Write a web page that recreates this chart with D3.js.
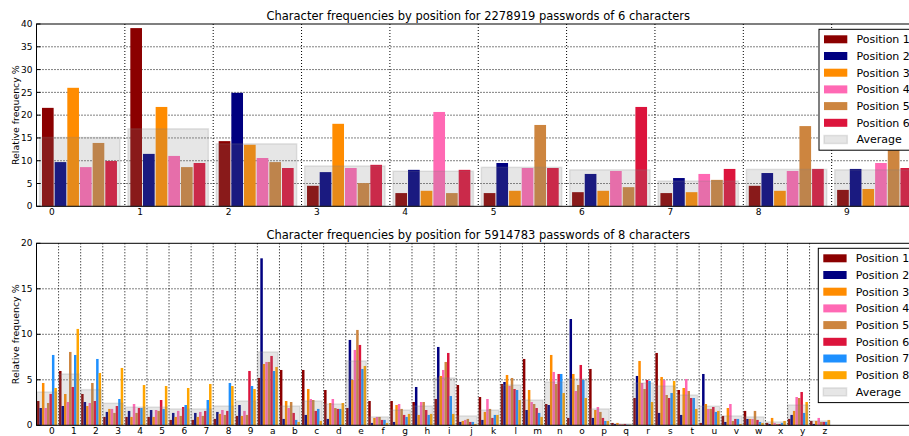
<!DOCTYPE html>
<html>
<meta charset="utf-8">

<head>
    <style>
    body {
        margin: 0;
        background: white;
    }

    text {
        font-family: "DejaVu Sans", sans-serif;
        fill: black;
    }

    .grid line {
        stroke: black;
        stroke-width: 1;
        stroke-dasharray: 1, 2;
    }

    .spine {
        fill: none;
        stroke: black;
        stroke-width: 1;
    }

    .title {
        font-size: 11.5px;
        text-anchor: middle;
    }

    .tick_label {
        font-size: 9px;
    }

    .axis_label {
        font-size: 9.4px;
        text-anchor: middle;
    }

    .legend text {
        font-size: 11px;
    }

    .average {
        fill: grey;
        fill-opacity: .2;
        stroke: grey;
        stroke-opacity: .2;
        stroke-width: 1.5;
    }
    </style>
</head>

<body>
    <div id='viz'></div>
</body>
<script src="https://cdn.jsdelivr.net/npm/d3@7"></script>

<script>
const width = 909;
const height = 436;

const colours = ['darkred', 'navy', 'darkorange', 'hotpink', 'peru', 'crimson', 'dodgerblue', 'orange'];

// 6 character passwords, digits 0-9
const digits = ['0', '1', '2', '3', '4', '5', '6', '7', '8', '9'];
const six_pos1 = [21.6, 39.1, 14.3, 4.5, 2.9, 2.9, 3.1, 2.9, 4.5, 3.6];
const six_pos2 = [9.7, 11.5, 24.9, 7.5, 8.0, 9.5, 7.1, 6.2, 7.3, 8.2];
const six_pos3 = [26.0, 21.8, 13.5, 18.1, 3.4, 3.4, 3.4, 3.1, 3.4, 3.8];
const six_pos4 = [8.6, 11.05, 10.6, 8.4, 20.7, 8.4, 7.75, 7.1, 7.75, 9.5];
const six_pos5 = [13.9, 8.6, 9.7, 5.1, 2.9, 17.85, 4.2, 5.8, 17.6, 14.5];
const six_pos6 = [9.95, 9.5, 8.4, 9.1, 8.0, 8.4, 21.8, 8.2, 8.2, 8.4];
const six_avg = [15.1, 17.0, 13.7, 8.85, 7.7, 8.55, 8.0, 5.55, 8.1, 8.0];

// 8 character passwords, 0-9 and a-z
const chars = ['0', '1', '2', '3', '4', '5', '6', '7', '8', '9',
    'a', 'b', 'c', 'd', 'e', 'f', 'g', 'h', 'i', 'j', 'k', 'l', 'm',
    'n', 'o', 'p', 'q', 'r', 's', 't', 'u', 'v', 'w', 'x', 'y', 'z'];
const eight_pos1 = [2.67, 5.97, 3.44, 0.92, 0.92, 0.92, 0.59, 0.59, 0.7, 1.03,
    5.2, 6.08, 6.08, 3.88, 1.9, 2.67, 2.67, 2.56, 2.89, 4.43, 3.11, 4.54, 7.29,
    2.34, 0.81, 6.19, 0.26, 3.0, 7.95, 3.88, 0.26, 1.03, 1.58, 0.26, 0.7, 0.48];
const eight_pos2 = [1.9, 2.12, 2.56, 1.47, 1.58, 1.68, 1.36, 1.36, 1.47, 2.23,
    18.35, 0.7, 1.14, 0.7, 9.38, 0.26, 0.37, 4.21, 8.61, 0.37, 0.59, 4.76, 1.68,
    2.23, 11.68, 0.81, 0.15, 5.42, 1.36, 1.14, 5.64, 0.37, 0.7, 0.15, 1.14, 0.15];
const eight_pos3 = [4.65, 3.44, 2.12, 1.8, 0.92, 0.92, 0.92, 0.92, 1.25, 1.03,
    6.74, 2.67, 3.99, 2.45, 4.98, 0.81, 2.23, 1.14, 5.42, 0.48, 1.47, 5.53, 3.88,
    7.73, 5.64, 1.68, 0.26, 7.07, 5.31, 4.1, 2.34, 1.9, 0.7, 0.81, 1.58, 0.48];
const eight_pos4 = [1.9, 2.56, 2.45, 1.8, 2.34, 1.68, 1.58, 1.47, 1.68, 1.58,
    6.96, 1.9, 2.89, 2.89, 8.28, 0.92, 2.34, 2.56, 6.08, 0.59, 2.89, 4.32, 2.56,
    5.86, 3.77, 2.01, 0.15, 4.65, 4.98, 5.09, 1.8, 2.34, 0.7, 0.26, 3.11, 0.81];
const eight_pos5 = [2.45, 8.06, 4.65, 1.36, 1.36, 1.58, 1.03, 1.03, 1.14, 1.14,
    6.96, 2.56, 2.78, 1.9, 10.48, 0.92, 1.8, 2.56, 6.96, 0.7, 1.8, 5.2, 2.34,
    4.54, 4.43, 1.47, 0.11, 3.99, 3.33, 3.77, 1.8, 0.48, 1.58, 0.15, 3.0, 0.37];
const eight_pos6 = [3.45, 4.21, 2.67, 2.12, 1.9, 2.78, 2.01, 1.58, 1.58, 5.97,
    7.62, 1.36, 1.58, 1.8, 8.83, 0.59, 1.14, 1.68, 7.95, 0.37, 0.81, 3.99, 1.9,
    5.64, 6.63, 0.81, 0.15, 4.98, 3.0, 3.0, 2.01, 0.7, 0.59, 0.15, 3.66, 0.37];
const eight_pos7 = [7.73, 7.73, 7.29, 2.89, 1.9, 1.8, 2.23, 2.78, 4.65, 4.32,
    5.97, 0.59, 1.8, 1.8, 6.19, 0.59, 0.92, 1.14, 3.22, 0.37, 1.14, 3.88, 1.36,
    5.64, 4.98, 0.48, 0.07, 4.87, 3.55, 3.0, 1.47, 0.7, 0.37, 0.26, 1.36, 0.37];
const eight_pos8 = [4.1, 10.59, 5.75, 6.3, 4.43, 4.32, 4.1, 4.54, 4.32, 3.99,
    6.41, 0.37, 0.48, 2.45, 6.52, 0.26, 1.25, 1.25, 1.25, 0.15, 1.14, 2.78, 0.92,
    3.55, 3.0, 0.48, 0.07, 2.56, 4.87, 1.8, 1.58, 0.15, 0.26, 0.48, 2.56, 0.59];
const eight_avg = [3.66, 5.64, 3.92, 2.42, 2.0, 2.0, 1.8, 1.8, 2.12, 2.67,
    8.06, 2.12, 2.67, 2.34, 7.07, 0.92, 1.68, 2.12, 5.2, 1.03, 1.68, 4.43, 2.78,
    4.76, 5.09, 1.8, 0.15, 4.65, 4.32, 3.33, 2.1, 1.03, 0.92, 0.37, 2.23, 0.48];

const svg = d3.select("#viz")
    .append("svg")
    .attr("width", width)
    .attr("height", height);

draw_panel({
    title: 'Character frequencies by position for 2278919 passwords of 6 characters',
    categories: digits,
    series: [six_pos1, six_pos2, six_pos3, six_pos4, six_pos5, six_pos6],
    average: six_avg,
    x_max: 10,
    y_max: 40,
    top: 24,
    bottom: 206.3,
    bar_start: 0.062,
    bar_total: 0.86,
    avg_start: 0.035,
    avg_width: 0.91,
    legend: [819, 29.3]
});

draw_panel({
    title: 'Character frequencies by position for 5914783 passwords of 8 characters',
    categories: chars,
    series: [eight_pos1, eight_pos2, eight_pos3, eight_pos4, eight_pos5, eight_pos6, eight_pos7, eight_pos8],
    average: eight_avg,
    x_max: 40,
    y_max: 20,
    top: 243.3,
    bottom: 425.3,
    bar_start: 0.02,
    bar_total: 0.905,
    avg_start: 0.01,
    avg_width: 0.92,
    legend: [818.3, 248.3]
});

function draw_panel(p) {
    const left = 36.5;
    const right = 920;
    const n = p.series.length;

    const x = d3.scaleLinear().domain([0, p.x_max]).range([left, right]);
    const y = d3.scaleLinear().domain([0, p.y_max]).range([p.bottom, p.top]);
    const y_ticks = y.ticks(p.y_max / 5);

    const g = svg.append("g");

    // grid
    const grid = g.append("g").attr("class", "grid");
    grid.selectAll(".vline")
        .data(d3.range(1, p.categories.length))
        .enter()
        .append("line")
        .attr("x1", d => x(d))
        .attr("x2", d => x(d))
        .attr("y1", p.top)
        .attr("y2", p.bottom);
    grid.selectAll(".hline")
        .data(y_ticks.filter(d => d > 0 && d < p.y_max))
        .enter()
        .append("line")
        .attr("x1", left)
        .attr("x2", right)
        .attr("y1", d => y(d))
        .attr("y2", d => y(d));

    // bars, one group per character
    const bw = p.bar_total / n;
    const px = x(bw) - x(0);
    const gap = px > 6 ? 1 : 0;
    const groups = g.selectAll(".group")
        .data(p.categories)
        .enter()
        .append("g")
        .attr("class", "group");

    groups.selectAll("rect")
        .data((c, i) => p.series.map((s, j) => ({ i: i, j: j, v: s[i] })))
        .enter()
        .append("rect")
        .attr("x", d => x(d.i + p.bar_start + d.j * bw))
        .attr("width", px - gap)
        .attr("y", d => y(d.v))
        .attr("height", d => y(0) - y(d.v))
        .attr("fill", d => colours[d.j]);

    g.selectAll(".average")
        .data(p.average)
        .enter()
        .append("rect")
        .attr("class", "average")
        .attr("x", (d, i) => x(i + p.avg_start))
        .attr("width", x(p.avg_width) - x(0))
        .attr("y", d => y(d))
        .attr("height", d => y(0) - y(d));

    // frame
    g.append("rect")
        .attr("class", "spine")
        .attr("x", left)
        .attr("y", p.top)
        .attr("width", right - left)
        .attr("height", p.bottom - p.top);

    g.selectAll(".ytick")
        .data(y_ticks)
        .enter()
        .append("line")
        .attr("stroke", "black")
        .attr("x1", left)
        .attr("x2", left + 4)
        .attr("y1", d => y(d))
        .attr("y2", d => y(d));

    g.selectAll(".ylab")
        .data(y_ticks)
        .enter()
        .append("text")
        .attr("class", "tick_label")
        .attr("x", left - 4)
        .attr("y", d => y(d))
        .attr("dy", "0.35em")
        .attr("text-anchor", "end")
        .text(d => d);

    g.selectAll(".xlab")
        .data(p.categories)
        .enter()
        .append("text")
        .attr("class", "tick_label")
        .attr("x", (d, i) => x(i) + 15.3)
        .attr("y", p.bottom + 8.6)
        .attr("text-anchor", "middle")
        .text(d => d);

    g.append("text")
        .attr("class", "axis_label")
        .attr("transform", "translate(19," + (p.top + p.bottom) / 2 + ") rotate(-90)")
        .text("Relative frequency %");

    g.append("text")
        .attr("class", "title")
        .attr("x", (left + right) / 2)
        .attr("y", p.top - 4)
        .text(p.title);

    // legend
    const names = p.series.map((s, j) => "Position " + (j + 1)).concat(["Average"]);
    const row = 16.7;
    const legend = g.append("g")
        .attr("class", "legend")
        .attr("transform", "translate(" + p.legend + ")");

    legend.append("rect")
        .attr("width", 120)
        .attr("height", names.length * row + 4)
        .attr("fill", "white")
        .attr("stroke", "black");

    const items = legend.selectAll(".item")
        .data(names)
        .enter()
        .append("g")
        .attr("transform", (d, i) => "translate(0," + (6 + i * row) + ")");

    items.append("rect")
        .attr("x", 5)
        .attr("width", 23.3)
        .attr("height", 8)
        .attr("class", (d, i) => i == n ? "average" : null)
        .attr("fill", (d, i) => i < n ? colours[i] : null);

    items.append("text")
        .attr("x", 37.5)
        .attr("y", 4)
        .attr("dy", "0.36em")
        .text(d => d);
}
</script>

</html>
